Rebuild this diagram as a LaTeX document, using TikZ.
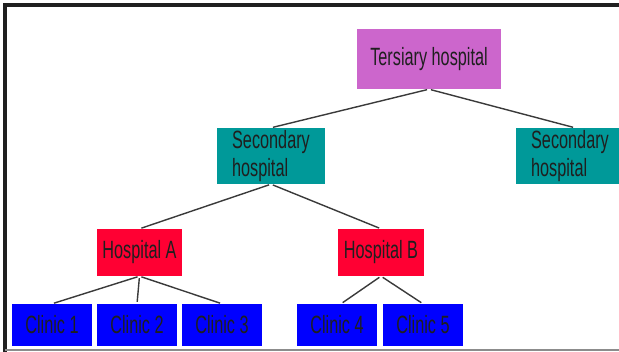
\documentclass[tikz,border=0pt]{standalone}
\usepackage{fontspec}
\newfontfamily\narrowsans[FakeStretch=0.65]{Liberation Sans}
\definecolor{tercol}{HTML}{CC66CC}
\definecolor{seccol}{HTML}{009999}
\definecolor{hoscol}{HTML}{FF0033}
\definecolor{clicol}{HTML}{0000FF}
\definecolor{linecol}{HTML}{3A3A3A}
\definecolor{framecol}{HTML}{202020}
\tikzset{
  box/.style={rectangle, inner sep=0pt, text=black!88,
    font=\narrowsans\fontsize{25}{28}\selectfont},
  terbox/.style={box, fill=tercol, minimum width=144pt, minimum height=60pt},
  secbox/.style={box, fill=seccol, minimum width=108pt, minimum height=56pt, align=left},
  hosbox/.style={box, fill=hoscol, minimum width=85pt, minimum height=47pt},
  clibox/.style={box, fill=clicol, minimum width=80pt, minimum height=42pt},
  link/.style={draw=linecol, line width=1.4pt, shorten <=2pt, shorten >=2pt}
}
\begin{document}
\begin{tikzpicture}[x=1pt, y=-1pt]
\clip (0,0) rectangle (619,352);
\useasboundingbox (0,0) rectangle (619,352);
\fill[white] (0,0) rectangle (619,352);
% frame
\draw[framecol, line width=3.5pt] (622,5) -- (5,5) -- (5,355);
\draw[gray!90, line width=2pt] (5,350.5) -- (622,350.5);
% nodes
\node[terbox] (ter) at (429,59) {Tersiary hospital};
\node[secbox] (secL) at (271,156) {Secondary\\hospital};
\node[secbox] (secR) at (570,156) {Secondary\\hospital};
\node[hosbox] (hosA) at (139.5,252.5) {Hospital A};
\node[hosbox, minimum width=86pt] (hosB) at (381,252.5) {Hospital B};
\node[clibox] (c1) at (52,325) {Clinic 1};
\node[clibox] (c2) at (137,325) {Clinic 2};
\node[clibox] (c3) at (222,325) {Clinic 3};
\node[clibox] (c4) at (337,325) {Clinic 4};
\node[clibox] (c5) at (423,325) {Clinic 5};
% connectors
\draw[link] (ter.south) -- (secL.north);
\draw[link] (ter.south) -- ([xshift=5pt]secR.north);
\draw[link] (secL.south) -- (hosA.north);
\draw[link] (secL.south) -- (hosB.north);
\draw[link] (hosA.south) -- (c1.north);
\draw[link] (hosA.south) -- (c2.north);
\draw[link] (hosA.south) -- (c3.north);
\draw[link] (hosB.south) -- ([xshift=4pt]c4.north);
\draw[link] (hosB.south) -- (c5.north);
\end{tikzpicture}
\end{document}
